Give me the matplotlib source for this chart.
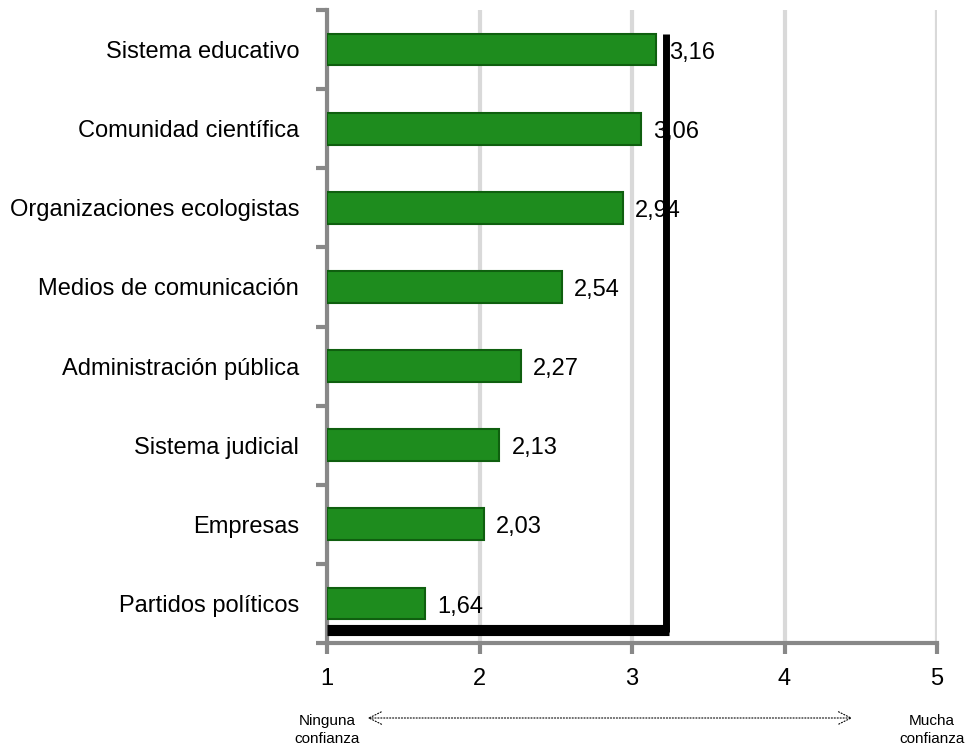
import matplotlib
matplotlib.use("Agg")
import matplotlib.pyplot as plt

plt.rcParams['font.family'] = ['Liberation Sans', 'DejaVu Sans']

categorias = ['Partidos políticos', 'Empresas', 'Sistema judicial',
              'Administración pública', 'Medios de comunicación',
              'Organizaciones ecologistas', 'Comunidad científica',
              'Sistema educativo']
valores = [1.64, 2.03, 2.13, 2.27, 2.54, 2.94, 3.06, 3.16]
etiquetas = ['1,64', '2,03', '2,13', '2,27', '2,54', '2,94', '3,06', '3,16']
ticks_x = [1, 2, 3, 4, 5]

fig = plt.figure(figsize=(9.67, 7.51), dpi=100)
ax = fig.add_axes([327 / 967, 1 - 643 / 751, 610 / 967, 633 / 751])

pos = list(range(len(categorias)))
ax.barh(pos, [v - 1 for v in valores], left=1, height=0.4,
        color='#1e8c1e', edgecolor='#0f5f0f', linewidth=1.5, zorder=3)

for p, v, t in zip(pos, valores, etiquetas):
    ax.text(v + 0.08, p - 0.04, t, va='center', ha='left', fontsize=17, zorder=5)

# marco negro
ax.plot([3.22, 3.22], [-0.36, 7.2], color='black', lw=5, zorder=4,
        solid_capstyle='butt')
ax.plot([1.0, 3.245], [-0.34, -0.34], color='black', lw=8, zorder=4,
        solid_capstyle='butt')

ax.set_xlim(1, 5)
ax.set_ylim(-0.5, 7.5)
ax.set_xticks(ticks_x)
ax.set_xticklabels([str(t) for t in ticks_x], fontsize=17)
ax.set_yticks([p - 0.5 for p in pos] + [7.5])
ax.set_yticklabels([])
ax.set_yticks(pos, minor=True)
ax.set_yticklabels(categorias, minor=True, fontsize=17)
ax.tick_params(axis='y', which='minor', length=0, pad=20)
ax.tick_params(axis='y', which='major', length=8, width=3, color='#888888')
ax.tick_params(axis='x', length=8, width=3, color='#888888', pad=10)

ax.grid(axis='x', color='#d9d9d9', lw=3, zorder=0)
for s in ['top', 'right']:
    ax.spines[s].set_visible(False)
for s in ['left', 'bottom']:
    ax.spines[s].set_color('#888888')
    ax.spines[s].set_linewidth(3)

fig.text(327 / 967, 1 - 730 / 751, 'Ninguna\nconfianza', ha='center',
         va='center', fontsize=11, linespacing=1.3)
fig.text(932 / 967, 1 - 730 / 751, 'Mucha\nconfianza', ha='center',
         va='center', fontsize=11, linespacing=1.3)
fig.add_artist(matplotlib.patches.FancyArrowPatch(
    (365 / 967, 1 - 718 / 751), (855 / 967, 1 - 718 / 751),
    transform=fig.transFigure, arrowstyle='<->,head_length=9,head_width=4.5',
    linestyle=':', color='black', lw=0.8))

fig.savefig('out.png', dpi=100)
